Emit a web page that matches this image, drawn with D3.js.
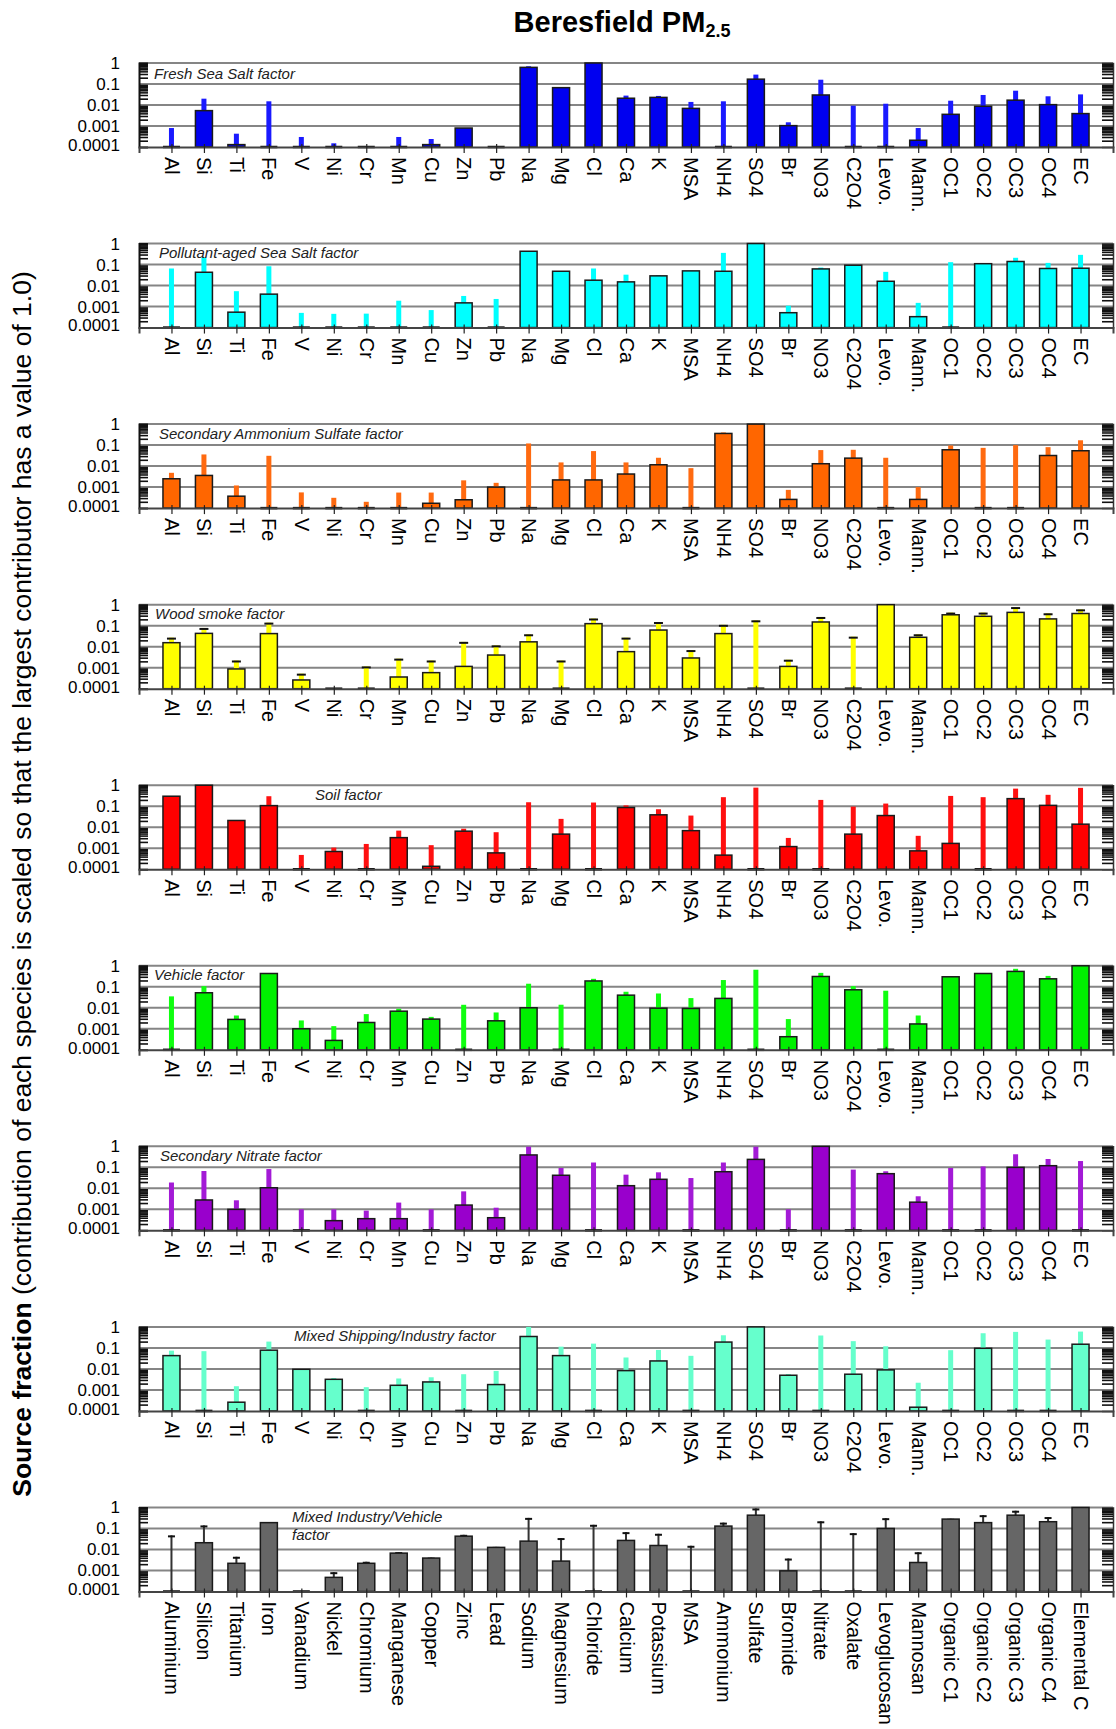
<!DOCTYPE html>
<html>
<head>
<meta charset="utf-8">
<script src="https://cdn.jsdelivr.net/npm/d3@7/dist/d3.min.js"></script>
<style>
  body { margin: 0; background: #fff; }
  svg text { font-family: "Liberation Sans", Arial, Helvetica, sans-serif; }
</style>
</head>
<body>
<div id="my_dataviz"></div>
<script>
// species on the x axis (short names on panels 1-8, full names on the last one)
var species = ["Al", "Si", "Ti", "Fe", "V", "Ni", "Cr", "Mn", "Cu", "Zn", "Pb", "Na", "Mg", "Cl", "Ca", "K", "MSA", "NH4", "SO4", "Br", "NO3", "C2O4", "Levo.", "Mann.", "OC1", "OC2", "OC3", "OC4", "EC"]
var speciesFull = ["Aluminium", "Silicon", "Titanium", "Iron", "Vanadium", "Nickel", "Chromium", "Manganese", "Copper", "Zinc", "Lead", "Sodium", "Magnesium", "Chloride", "Calcium", "Potassium", "MSA", "Ammonium", "Sulfate", "Bromide", "Nitrate", "Oxalate", "Levoglucosan", "Mannosan", "Organic C1", "Organic C2", "Organic C3", "Organic C4", "Elemental C"]
var factorNames = ["Fresh Sea Salt factor", "Pollutant-aged Sea Salt factor", "Secondary Ammonium Sulfate factor", "Wood smoke factor", "Soil factor", "Vehicle factor", "Secondary Nitrate factor", "Mixed Shipping/Industry factor", "Mixed Industry/Vehicle|factor"]
var yTicks = [1, 0.1, 0.01, 0.001, 0.0001]

// source fractions (0 = no bar) and upper error values
var freshSaltVal = [0, 0.0054, 0.00013, 0, 0, 0, 0, 0, 0.00013, 0.0008, 0, 0.62, 0.067, 1.0, 0.021, 0.023, 0.0069, 0, 0.17, 0.00104, 0.03, 0, 0, 0.00021, 0.0036, 0.0087, 0.017, 0.0104, 0.0039]
var freshSaltErr = [0.0008, 0.02, 0.00043, 0.015, 0.0003, 0.00015, 0, 0.0003, 0.00024, 0.0008, 0, 0.7, 0.07, 1.0, 0.028, 0.027, 0.014, 0.015, 0.28, 0.0015, 0.16, 0.0093, 0.0115, 0.0008, 0.016, 0.03, 0.048, 0.026, 0.032]

var agedSaltVal = [0, 0.043, 0.00054, 0.0039, 0, 0, 0, 0, 0, 0.0015, 0, 0.43, 0.048, 0.018, 0.015, 0.029, 0.05, 0.048, 1.0, 0.00051, 0.062, 0.093, 0.016, 0.00033, 0, 0.11, 0.14, 0.065, 0.067]
var agedSaltErr = [0.065, 0.22, 0.0054, 0.083, 0.0005, 0.00045, 0.00046, 0.0019, 0.00068, 0.0032, 0.0023, 0.43, 0.048, 0.065, 0.033, 0.031, 0.05, 0.36, 1.0, 0.0011, 0.072, 0.093, 0.045, 0.0015, 0.13, 0.11, 0.21, 0.12, 0.29]

var sulfateVal = [0.0025, 0.0036, 0.00037, 0, 0, 0, 0, 0, 0.00017, 0.00025, 0.001, 0, 0.0022, 0.0022, 0.0042, 0.0116, 0, 0.36, 1.0, 0.00026, 0.013, 0.024, 0, 0.00026, 0.06, 0, 0, 0.032, 0.054]
var sulfateErr = [0.0048, 0.036, 0.0012, 0.031, 0.00056, 0.00031, 0.0002, 0.00055, 0.00055, 0.0021, 0.0016, 0.12, 0.015, 0.052, 0.015, 0.025, 0.008, 0.4, 1.0, 0.00074, 0.058, 0.06, 0.025, 0.001, 0.096, 0.074, 0.1, 0.08, 0.17]

var woodVal = [0.0155, 0.043, 0.00087, 0.042, 0.00026, 0, 0, 0.00036, 0.00058, 0.00115, 0.004, 0.017, 0, 0.125, 0.0058, 0.062, 0.0029, 0.042, 0, 0.00115, 0.15, 0, 1.0, 0.028, 0.33, 0.28, 0.43, 0.21, 0.38]
var woodErr = [0.027, 0.078, 0.0022, 0.14, 0.00052, 0, 0.00115, 0.0027, 0.0022, 0.017, 0.0116, 0.039, 0.0022, 0.22, 0.027, 0.15, 0.0069, 0.11, 0.18, 0.0024, 0.26, 0.03, 1.0, 0.039, 0.42, 0.42, 0.77, 0.39, 0.6]

var soilVal = [0.3, 1.0, 0.021, 0.107, 0, 0.0007, 0, 0.0032, 0.000138, 0.0065, 0.0006, 0, 0.0047, 0, 0.087, 0.039, 0.0069, 0.00047, 0, 0.0012, 0, 0.0047, 0.036, 0.00075, 0.0017, 0, 0.23, 0.11, 0.014]
var soilErr = [0.3, 1.0, 0.021, 0.3, 0.00048, 0.00107, 0.0016, 0.0069, 0.0014, 0.0085, 0.0058, 0.155, 0.025, 0.15, 0.11, 0.072, 0.036, 0.27, 0.77, 0.0031, 0.2, 0.096, 0.134, 0.0039, 0.31, 0.27, 0.69, 0.35, 0.75]

var vehicleVal = [0, 0.052, 0.0028, 0.43, 0.001, 0.00028, 0.002, 0.0069, 0.0029, 0, 0.0024, 0.01, 0, 0.19, 0.04, 0.0096, 0.0093, 0.028, 0, 0.00042, 0.31, 0.072, 0, 0.0017, 0.3, 0.43, 0.54, 0.24, 1.0]
var vehicleErr = [0.035, 0.107, 0.0043, 0.43, 0.0025, 0.00134, 0.005, 0.009, 0.0037, 0.0139, 0.006, 0.14, 0.014, 0.24, 0.058, 0.048, 0.029, 0.21, 0.65, 0.0029, 0.46, 0.107, 0.065, 0.0043, 0.3, 0.43, 0.72, 0.33, 1.0]

var nitrateVal = [0, 0.0028, 0.001, 0.0107, 0, 0.00029, 0.00036, 0.00036, 0, 0.0016, 0.0004, 0.39, 0.042, 0, 0.0134, 0.027, 0, 0.062, 0.24, 0, 1.0, 0, 0.05, 0.0022, 0, 0, 0.1, 0.12, 0]
var nitrateErr = [0.019, 0.067, 0.0027, 0.083, 0.001, 0.001, 0.00087, 0.0021, 0.001, 0.0072, 0.0012, 0.96, 0.093, 0.17, 0.045, 0.058, 0.031, 0.17, 0.96, 0.001, 1.0, 0.078, 0.065, 0.0042, 0.093, 0.11, 0.42, 0.25, 0.2]

var shippingVal = [0.043, 0, 0.00026, 0.078, 0.0096, 0.0032, 0, 0.00166, 0.0024, 0, 0.0018, 0.35, 0.043, 0, 0.0083, 0.024, 0, 0.19, 1.0, 0.005, 0, 0.0056, 0.009, 0.00015, 0, 0.096, 0, 0, 0.15]
var shippingErr = [0.074, 0.07, 0.0015, 0.2, 0.0096, 0.0037, 0.00135, 0.0035, 0.004, 0.0056, 0.008, 1.0, 0.115, 0.16, 0.035, 0.08, 0.042, 0.4, 1.0, 0.0057, 0.39, 0.21, 0.12, 0.0022, 0.078, 0.5, 0.58, 0.25, 0.6]

var industryVal = [0, 0.021, 0.0022, 0.19, 0, 0.00047, 0.0022, 0.0067, 0.0039, 0.043, 0.0126, 0.025, 0.0028, 0, 0.027, 0.0155, 0, 0.13, 0.43, 0.00096, 0, 0, 0.1, 0.0024, 0.28, 0.19, 0.43, 0.21, 1.0]
var industryErr = [0.047, 0.14, 0.0045, 0.2, 0, 0.00083, 0.0026, 0.0075, 0.0041, 0.05, 0.0133, 0.32, 0.035, 0.15, 0.067, 0.056, 0.015, 0.19, 0.9, 0.0037, 0.22, 0.06, 0.31, 0.0074, 0.29, 0.43, 0.7, 0.35, 1.0]

var factorVals = [freshSaltVal, agedSaltVal, sulfateVal, woodVal, soilVal, vehicleVal, nitrateVal, shippingVal, industryVal]
var factorErrs = [freshSaltErr, agedSaltErr, sulfateErr, woodErr, soilErr, vehicleErr, nitrateErr, shippingErr, industryErr]

// styles
var barColors = ["#0000f0", "#00ffff", "#ff6600", "#ffff00", "#ff0000", "#00f000", "#9900cc", "#66ffcc", "#666666"]
var errColors = ["#1a1aff", "#00ffff", "#ff6a10", "#ffff00", "#ff1010", "#10ff10", "#a31ad6", "#66ffcc", "#333333"]
var titleX = [154, 159, 159, 155, 315, 154, 160, 294, 292]

var width = 1116, height = 1729
var left = 139, right = 1113
var firstTop = 63, step = 180.56, panelH = 84

var svg = d3.select("#my_dataviz").append("svg").attr("width", width).attr("height", height)

var xs = d3.scaleLinear().domain([0, species.length + 1]).range([left, right])

// main title
var title = svg.append("text").attr("x", 622).attr("y", 32).attr("text-anchor", "middle")
  .style("font-size", "29px").style("font-weight", "bold").attr("fill", "#000")
title.append("tspan").text("Beresfield PM")
title.append("tspan").attr("dy", 5).style("font-size", "18px").text("2.5")

// y axis title
var ylab = svg.append("text").attr("transform", "translate(31,884) rotate(-90)")
  .attr("text-anchor", "middle").style("font-size", "26.5px").attr("fill", "#000")
ylab.append("tspan").style("font-weight", "bold").text("Source fraction")
ylab.append("tspan").text(" (contribution of each species is scaled so that the largest contributor has a value of 1.0)")

function drawPanel(p) {
  var top = firstTop + p * step
  var bottom = top + panelH
  var ys = d3.scaleLog().domain([0.0001, 1]).range([bottom, top]).clamp(true)
  var vals = factorVals[p], errs = factorErrs[p]
  var last = (p == factorVals.length - 1)
  var g = svg.append("g")

  // grid lines incl. top border
  g.selectAll(".grid").data(yTicks.slice(0, 4)).enter().append("line")
    .attr("x1", left).attr("x2", right)
    .attr("y1", d => ys(d)).attr("y2", d => ys(d))
    .attr("stroke", "#858585").attr("stroke-width", 2)

  var minor = ys.ticks().filter(d => yTicks.indexOf(d) < 0)

  // left + right log ticks
  g.append("g").attr("transform", "translate(" + left + ",0)")
    .call(d3.axisRight(ys).tickValues(minor).tickSize(9).tickFormat(""))
    .call(a => a.selectAll("line").attr("stroke", "#111").attr("stroke-width", 1.6))
    .call(a => a.select(".domain").attr("stroke", "#111").attr("stroke-width", 2))
  g.append("g").attr("transform", "translate(" + right + ",0)")
    .call(d3.axisLeft(ys).tickValues(minor).tickSize(11).tickFormat(""))
    .call(a => a.selectAll("line").attr("stroke", "#111").attr("stroke-width", 1.6))
    .call(a => a.select(".domain").attr("stroke", "#333").attr("stroke-width", 1.5))

  // y labels
  g.append("g").attr("transform", "translate(" + left + ",0)")
    .call(d3.axisLeft(ys).tickValues(yTicks).tickSize(0).tickPadding(19).tickFormat(d3.format("~g")))
    .call(a => a.select(".domain").remove())
    .selectAll("text")
    .style("font-size", "17px").attr("fill", "#000")
    .attr("dy", (d, i) => i == 4 ? "0.2em" : "0.32em")

  // error bars (behind the bars)
  errs.forEach(function (e, i) {
    if (e <= 0.0001) return
    var w = last ? 2 : 5
    g.append("rect").attr("class", "err")
      .attr("x", xs(i + 1) - w / 2).attr("width", w)
      .attr("y", ys(e)).attr("height", bottom - ys(e))
      .attr("fill", errColors[p])
    if (p == 3 || last) {
      g.append("line")
        .attr("x1", xs(i + 1) - (last ? 3.5 : 4.5)).attr("x2", xs(i + 1) + (last ? 3.5 : 4.5))
        .attr("y1", ys(e) + 1).attr("y2", ys(e) + 1)
        .attr("stroke", "#111").attr("stroke-width", 2)
    }
  })

  // bars; values under the axis minimum become a flat dash on the axis
  vals.forEach(function (v, i) {
    if (v > 0.0001) {
      g.append("rect").attr("class", "bar")
        .attr("x", xs(i + 1) - 8.5).attr("width", 17)
        .attr("y", ys(v)).attr("height", bottom - ys(v))
        .attr("fill", barColors[p]).attr("stroke", "#1a1a1a").attr("stroke-width", 1.5)
    } else {
      g.append("line")
        .attr("x1", xs(i + 1) - 8.5).attr("x2", xs(i + 1) + 8.5)
        .attr("y1", bottom).attr("y2", bottom)
        .attr("stroke", "#111").attr("stroke-width", 2.5)
    }
  })

  // x axis
  var labels = last ? speciesFull : species
  g.append("g").attr("transform", "translate(0," + bottom + ")")
    .call(d3.axisBottom(xs).tickValues(d3.range(1, species.length + 1)).tickSize(6).tickFormat(d => labels[d - 1]))
    .call(a => a.select(".domain").attr("stroke", "#444").attr("stroke-width", 2))
    .call(a => a.selectAll("line").attr("y1", -3).attr("stroke", "#222").attr("stroke-width", 1.2))
    .selectAll("text")
    .attr("transform", "rotate(90)")
    .attr("x", 10).attr("y", 0).attr("dy", "0.35em")
    .style("text-anchor", "start").style("font-size", "20px").attr("fill", "#000")

  // factor name
  var parts = factorNames[p].split("|")
  var t = g.append("text").attr("x", titleX[p]).attr("y", top + (p == 0 ? 16 : 14.5))
    .style("font-size", "15px").style("font-style", "italic").attr("fill", "#222")
  parts.forEach(function (s, k) {
    t.append("tspan").attr("x", titleX[p]).attr("dy", k == 0 ? 0 : 18).text(s)
  })
}

for (var p = 0; p < factorVals.length; p++) {
  drawPanel(p)
}
</script>
</body>
</html>
